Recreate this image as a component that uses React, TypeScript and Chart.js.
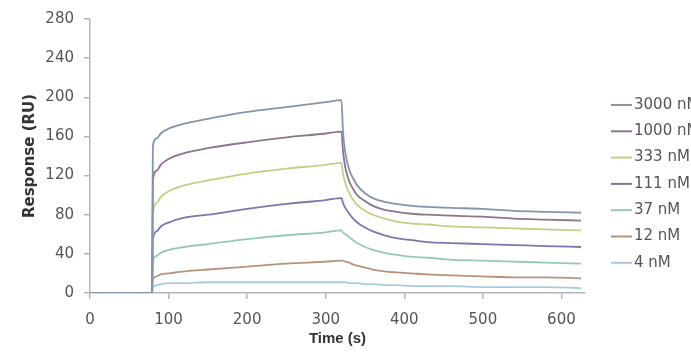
import React, { useEffect, useRef } from "react";
import { Chart, registerables } from "chart.js";

Chart.register(...registerables);

// Time axis (s)
const timeSec = [0, 79, 80, 85, 90, 100, 120, 150, 200, 250, 300, 320, 322, 325, 330, 335, 340, 350, 360, 375, 390, 410, 430, 460, 500, 540, 580, 625];

// Response (RU) per concentration
const r3000 = [0, 0, 150, 158, 163, 168, 173, 178, 185, 190, 195, 197, 165, 143, 126, 117, 110, 102, 97, 93, 91, 89, 88, 87, 86, 84, 83, 82];
const r1000 = [0, 0, 115, 125, 131, 137, 143, 148, 154, 159, 163, 165, 145, 128, 114, 106, 100, 94, 89, 85, 83, 81, 80, 79, 78, 76, 75, 74];
const r333 = [0, 0, 82, 92, 98, 104, 110, 115, 122, 127, 131, 133, 122, 112, 102, 95, 90, 84, 80, 76, 73, 71, 70, 68, 67, 66, 65, 64];
const r111 = [0, 0, 55, 63, 68, 72, 77, 80, 86, 91, 95, 97, 92, 87, 81, 76, 72, 67, 63, 59, 56, 54, 52, 51, 50, 49, 48, 47];
const r37 = [0, 0, 33, 38, 41, 44, 47, 50, 55, 59, 62, 64, 62, 60, 57, 54, 51, 47, 44, 41, 39, 37, 36, 34, 33, 32, 31, 30];
const r12 = [0, 0, 14, 17, 19, 20, 22, 24, 27, 30, 32, 33, 33, 32, 31, 29, 28, 26, 24, 22, 21, 20, 19, 18, 17, 16, 16, 15];
const r4 = [0, 0, 6, 8, 9, 10, 10, 11, 11, 11, 11, 11, 11, 11, 10, 10, 10, 9, 9, 8, 8, 7, 7, 7, 6, 6, 6, 5];

const seriesLabels = ["3000 nM", "1000 nM", "333 nM", "111 nM", "37 nM", "12 nM", "4 nM"];
const seriesValues = [r3000, r1000, r333, r111, r37, r12, r4];
const seriesColors = ["#8196ad", "#8d7590", "#c3cf85", "#7d76ad", "#95c8b8", "#b8937c", "#a9cbe0"];

const yTicks = [0, 40, 80, 120, 160, 200, 240, 280];
const xTicks = [0, 100, 200, 300, 400, 500, 600];

const sideLegend = {
  id: "sideLegend",
  afterDraw(chart: any) {
    const ctx = chart.ctx;
    const area = chart.chartArea;
    const x0 = area.right + 26;
    ctx.save();
    chart.data.datasets.forEach((ds: any, i: number) => {
      const y = 105 + i * 26.3;
      ctx.strokeStyle = ds.borderColor;
      ctx.lineWidth = 2;
      ctx.beginPath();
      ctx.moveTo(x0, y);
      ctx.lineTo(x0 + 21, y);
      ctx.stroke();
      ctx.fillStyle = "#555";
      ctx.font = '15px "DejaVu Sans"';
      ctx.textBaseline = "middle";
      ctx.textAlign = "left";
      ctx.fillText(ds.label, x0 + 23, y);
    });
    ctx.restore();
  },
};

export default function App() {
  const ref = useRef<HTMLCanvasElement | null>(null);

  useEffect(() => {
    document.body.style.margin = "0";
    if (!ref.current) return;
    const datasets = seriesLabels.map((label, i) => ({
      label,
      data: timeSec.map((t, j) => ({ x: t, y: seriesValues[i][j] })),
      borderColor: seriesColors[i],
      backgroundColor: seriesColors[i],
      borderWidth: 1.8,
      pointRadius: 0,
      fill: false,
      cubicInterpolationMode: "monotone" as const,
    }));
    const tickFont = { family: '"DejaVu Sans"', size: 15 };
    const chart = new Chart(ref.current, {
      type: "line",
      data: { datasets },
      plugins: [sideLegend],
      options: {
        animation: false,
        responsive: false,
        layout: { padding: { top: 17, right: 106, left: 0, bottom: 0 } },
        plugins: { legend: { display: false }, tooltip: { enabled: false } },
        scales: {
          x: {
            type: "linear",
            min: 0,
            max: 630,
            afterFit: (s: any) => {
              s.height = 64;
            },
            afterBuildTicks: (s: any) => {
              s.ticks = xTicks.map((v) => ({ value: v }));
            },
            ticks: { font: tickFont, color: "#555", padding: 12, maxRotation: 0 },
            grid: { drawOnChartArea: false, drawTicks: true, tickLength: 6, color: "#b5b5b5", lineWidth: 1.5 },
            border: { color: "#b5b5b5", width: 1.5 },
            title: {
              display: true,
              text: "Time (s)",
              color: "#333",
              font: { family: '"Liberation Sans"', size: 15, weight: "bold" },
              padding: { top: 0, bottom: 9 },
            },
          },
          y: {
            type: "linear",
            min: 0,
            max: 280,
            afterFit: (s: any) => {
              s.width = 90;
            },
            afterBuildTicks: (s: any) => {
              s.ticks = yTicks.map((v) => ({ value: v }));
            },
            ticks: { font: tickFont, color: "#555", padding: 10 },
            grid: { drawOnChartArea: false, drawTicks: true, tickLength: 6, color: "#b5b5b5", lineWidth: 1.5 },
            border: { color: "#b5b5b5", width: 1.5 },
            title: {
              display: true,
              text: "Response (RU)",
              color: "#333",
              font: { family: '"DejaVu Sans"', size: 15, weight: "bold" },
              padding: { top: 21, bottom: 0 },
            },
          },
        },
      },
    });
    return () => chart.destroy();
  }, []);

  return (
    <div style={{ width: 691, height: 357, overflow: "hidden", background: "#fff" }}>
      <canvas ref={ref} width={691} height={357} style={{ display: "block", width: 691, height: 357 }} />
    </div>
  );
}
